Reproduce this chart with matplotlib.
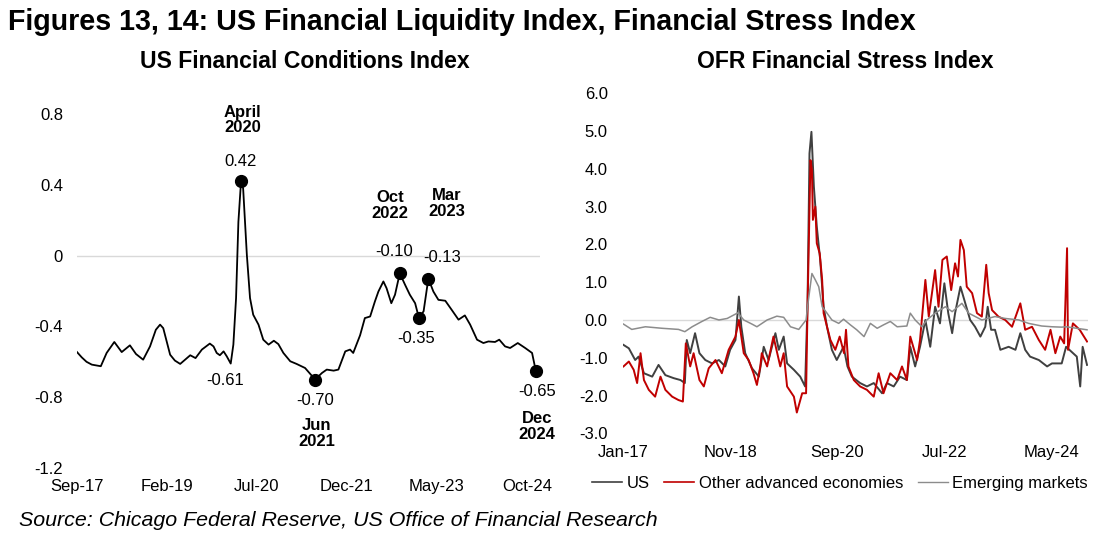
import matplotlib
matplotlib.use("Agg")
import matplotlib.pyplot as plt
from matplotlib.lines import Line2D

plt.rcParams['font.family'] = ['Liberation Sans', 'DejaVu Sans']

# ---------------- Left chart: US Financial Conditions Index ----------------
# x = months since Sep-2017
nfci_month = [0, 0.9, 1.8, 2.8, 4.5, 5.6, 7.05, 8.45, 10.0, 11.15, 12.5, 13.8, 14.9, 15.7, 16.3,
              17.6, 18.5, 19.5, 21.4, 22.4, 23.6, 25.1, 25.8, 26.4, 27.0, 27.7, 28.3, 29.05, 29.55,
              30.06, 30.5, 31.0, 31.4, 32.1, 32.7, 33.3, 34.3, 35.2, 36.2, 37.2, 38.05, 39.0, 40.3,
              41.5, 43.1, 45.0, 46.3, 47.2, 48.5, 49.4, 50.7, 51.6, 52.2, 53.5, 54.4, 55.4, 56.3,
              56.96, 57.9, 58.5, 59.4, 60.1, 61.0, 62.0, 62.9, 63.9, 64.6, 65.5, 66.4, 67.35, 68.3,
              69.6, 70.8, 72.1, 73.3, 74.3, 75.6, 76.8, 77.75, 79.0, 79.8, 80.9, 81.85, 83.3, 84.7,
              86.0, 86.7]
nfci_value = [-0.545, -0.575, -0.60, -0.616, -0.625, -0.55, -0.488, -0.545, -0.507, -0.556, -0.588,
              -0.513, -0.419, -0.39, -0.41, -0.56, -0.593, -0.612, -0.563, -0.579, -0.531, -0.497,
              -0.513, -0.55, -0.563, -0.541, -0.569, -0.61, -0.503, -0.24, 0.19, 0.42, 0.379, 0.004,
              -0.24, -0.334, -0.39, -0.475, -0.503, -0.481, -0.5, -0.55, -0.597, -0.612, -0.635,
              -0.70, -0.663, -0.644, -0.65, -0.644, -0.541, -0.531, -0.55, -0.45, -0.353, -0.344,
              -0.259, -0.203, -0.146, -0.184, -0.269, -0.221, -0.10, -0.165, -0.221, -0.269, -0.35,
              -0.315, -0.13, -0.203, -0.25, -0.255, -0.306, -0.362, -0.338, -0.39, -0.475, -0.494,
              -0.485, -0.488, -0.475, -0.513, -0.522, -0.494, -0.522, -0.55, -0.65]
left_tick_month = [0, 17, 34, 51, 68, 85]
left_tick_label = ["Sep-17", "Feb-19", "Jul-20", "Dec-21", "May-23", "Oct-24"]
left_yticks = [-1.2, -0.8, -0.4, 0, 0.4, 0.8]
left_ylabels = ["-1.2", "-0.8", "-0.4", "0", "0.4", "0.8"]

# highlighted points: (month, value, value label, date label)
hl_month = [31.0, 45.0, 61.0, 64.6, 66.4, 86.7]
hl_value = [0.42, -0.70, -0.10, -0.35, -0.13, -0.65]
hl_vlabel = ["0.42", "-0.70", "-0.10", "-0.35", "-0.13", "-0.65"]
hl_dlabel = ["April\n2020", "Jun\n2021", "Oct\n2022", "", "Mar\n2023", "Dec\n2024"]
extra_label_month, extra_label_value, extra_label_text = 29.05, -0.61, "-0.61"

# ---------------- Right chart: OFR Financial Stress Index ----------------
# x = months since Jan-2017
us_month = [0.1, 1.2, 2.5, 3.2, 4.3, 6.0, 7.3, 8.7, 10.4, 11.8, 12.7, 13.1, 13.8, 14.8, 15.7, 16.9,
            18.3, 19.7, 21.0, 22.0, 23.1, 23.8, 24.3, 25.1, 26.5, 27.9, 28.9, 29.9, 31.3, 32.0, 33.0,
            33.7, 35.1, 36.4, 37.4, 37.9, 38.3, 38.7, 39.2, 39.8, 40.5, 41.2, 41.9, 42.9, 43.9, 45.3,
            46.1, 47.0, 48.7, 50.1, 51.5, 53.2, 54.2, 55.6, 56.9, 58.3, 59.0, 60.0, 61.0, 62.1, 63.1,
            64.1, 65.1, 66.0, 66.8, 67.6, 68.2, 69.3, 70.3, 71.3, 72.3, 73.4, 74.4, 74.9, 75.6, 76.4,
            77.5, 79.2, 80.6, 81.6, 82.6, 83.6, 85.4, 87.1, 88.1, 90.1, 91.0, 93.2, 93.9, 94.4, 95.3]
us_value = [-0.66, -0.75, -1.06, -0.97, -1.41, -1.5, -1.19, -1.46, -1.54, -1.59, -1.67, -0.53, -0.88,
            -0.35, -0.88, -1.06, -1.15, -1.06, -1.23, -0.79, -0.53, 0.62, -0.18, -0.88, -1.28, -1.5,
            -0.71, -1.06, -0.35, -0.79, -0.44, -1.15, -1.32, -1.5, -1.76, 0.44, 4.41, 4.98, 3.53, 2.47,
            1.59, 0.35, -0.18, -0.79, -1.06, -0.71, -1.23, -1.5, -1.67, -1.76, -1.67, -1.94, -1.67,
            -1.76, -1.5, -1.59, -0.71, -1.23, -0.71, 0.0, -0.71, 0.35, -0.09, 0.97, 0.18, -0.35, 0.18,
            0.88, 0.44, 0.0, -0.18, -0.44, -0.18, 0.35, -0.26, -0.26, -0.79, -0.71, -0.79, -0.35, -0.79,
            -0.97, -1.06, -1.23, -1.15, -1.15, -0.71, -0.97, -1.76, -0.71, -1.19]
oae_month = [0.1, 1.2, 2.2, 2.9, 3.6, 4.3, 5.3, 6.6, 7.7, 8.7, 10.1, 11.4, 12.3, 12.9, 13.8, 14.5,
             15.7, 16.6, 17.6, 19.0, 20.3, 21.7, 23.1, 23.8, 24.8, 25.8, 26.8, 27.5, 28.2, 28.5, 29.6,
             30.9, 32.3, 33.0, 33.7, 35.1, 35.7, 36.8, 37.6, 37.9, 38.5, 38.8, 39.0, 39.5, 39.8, 40.4,
             40.9, 41.2, 41.9, 42.6, 43.6, 44.5, 45.4, 45.8, 46.3, 47.4, 48.7, 50.1, 51.5, 52.5, 53.5,
             54.9, 56.3, 57.3, 58.3, 59.0, 60.4, 61.0, 62.1, 62.8, 64.1, 64.8, 65.6, 66.5, 67.4, 68.2,
             68.8, 69.3, 70.0, 70.6, 71.7, 72.7, 73.7, 74.6, 75.1, 75.8, 77.1, 78.5, 79.9, 81.6, 82.6,
             84.0, 85.4, 86.7, 87.8, 88.8, 89.8, 90.6, 91.2, 91.4, 92.4, 93.8, 95.3]
oae_value = [-1.23, -1.1, -1.32, -1.67, -0.88, -1.59, -1.85, -2.03, -1.5, -1.85, -2.03, -2.12, -2.16,
             -0.62, -1.23, -0.88, -1.59, -1.76, -1.28, -1.06, -1.41, -0.79, -0.44, 0.0, -0.88, -1.06,
             -1.41, -1.72, -1.23, -0.88, -1.23, -0.44, -1.23, -0.88, -1.76, -2.03, -2.45, -1.94, -1.94,
             0.35, 4.23, 3.97, 2.65, 3.0, 2.03, 1.76, 1.06, 0.18, -0.18, -0.53, -0.79, -0.44, -0.88,
             -0.26, -1.23, -1.59, -1.76, -1.85, -2.03, -1.41, -1.94, -1.41, -1.59, -1.23, -1.59, -0.44,
             -1.06, -0.53, 1.06, 0.09, 1.32, 0.35, 1.59, 1.68, 0.79, 1.5, 1.15, 2.12, 1.85, 0.88, 0.71,
             0.18, 0.09, 1.46, 0.71, 0.26, 0.09, 0.0, -0.18, 0.44, -0.26, -0.18, -0.53, -0.79, -0.26,
             -0.88, -0.44, -0.62, 1.9, -0.79, -0.09, -0.26, -0.57]
em_month = [0.1, 1.8, 4.6, 8.0, 11.4, 12.7, 14.2, 16.2, 17.9, 19.7, 21.4, 23.6, 24.8, 26.5, 27.5,
            29.6, 31.6, 33.0, 34.4, 36.1, 37.6, 37.9, 38.8, 39.5, 40.2, 40.9, 41.9, 42.9, 44.3, 45.3,
            46.7, 48.0, 49.5, 50.8, 52.2, 53.5, 54.9, 56.3, 58.3, 59.0, 60.0, 61.4, 62.4, 64.1, 66.2,
            67.6, 69.6, 71.0, 73.7, 76.4, 78.5, 81.3, 83.3, 86.0, 88.1, 90.1, 91.0, 95.3]
em_value = [-0.11, -0.25, -0.18, -0.22, -0.25, -0.31, -0.18, -0.04, 0.07, 0.0, 0.04, 0.19, 0.0, -0.11,
            -0.18, 0.0, 0.1, 0.07, -0.18, -0.25, 0.0, 0.35, 1.23, 1.06, 0.88, 0.35, 0.18, 0.0, -0.09,
            0.02, -0.13, -0.26, -0.44, -0.09, -0.22, -0.13, -0.04, -0.18, -0.16, 0.18, 0.0, -0.18, 0.0,
            0.18, 0.35, 0.22, 0.44, 0.18, 0.0, 0.09, 0.04, 0.0, -0.09, -0.16, -0.18, -0.19, -0.18, -0.26]
right_tick_month = [0, 22, 44, 66, 88]
right_tick_label = ["Jan-17", "Nov-18", "Sep-20", "Jul-22", "May-24"]
right_yticks = [-3, -2, -1, 0, 1, 2, 3, 4, 5, 6]
series_names = ["US", "Other advanced economies", "Emerging markets"]

C_US = "#404040"
C_OAE = "#C00000"
C_EM = "#8C8C8C"
C_GRID = "#D9D9D9"
W, H = 1111, 544

fig = plt.figure(figsize=(W / 100, H / 100), dpi=100)

def fx(px):
    return px / W

def fy(py):
    return 1 - py / H

# ---- titles ----
fig.text(fx(8), fy(22), "Figures 13, 14: US Financial Liquidity Index, Financial Stress Index",
         fontsize=20.6, fontweight="bold", ha="left", va="center")
fig.text(fx(305), fy(61), "US Financial Conditions Index", fontsize=16.6, fontweight="bold",
         ha="center", va="center")
fig.text(fx(845), fy(62), "OFR Financial Stress Index", fontsize=16.6, fontweight="bold",
         ha="center", va="center")
fig.text(fx(19), fy(521), "Source: Chicago Federal Reserve, US Office of Financial Research",
         fontsize=15.4, style="italic", ha="left", va="center")

# ---- left axes ----
axL = fig.add_axes([fx(77), fy(468), fx(540) - fx(77), fy(114) - fy(468)])
axL.set_xlim(0, 87.5)
axL.set_ylim(-1.2, 0.8)
axL.axhline(0, color=C_GRID, lw=1.0, zorder=1)
axL.plot(nfci_month, nfci_value, color="black", lw=1.3, zorder=3)
axL.plot(hl_month, hl_value, "o", color="black", ms=8.5, zorder=4, clip_on=False)

# annotation offsets in points (value label, date label)
v_off = [(0, 14), (0, -15), (-4, 16), (-2, -15), (10, 15), (1, -15)]
d_off = [(1, 44), (1, -39), (-7, 49), (0, 0), (13, 54), (1, -40)]
for m, v, vl, dl, vo, do in zip(hl_month, hl_value, hl_vlabel, hl_dlabel, v_off, d_off):
    axL.annotate(vl, (m, v), xytext=vo, textcoords="offset points", ha="center", va="center",
                 fontsize=12, annotation_clip=False)
    if dl:
        axL.annotate(dl, (m, v), xytext=do, textcoords="offset points", ha="center", va="center",
                     fontsize=12, fontweight="bold", linespacing=1.05, annotation_clip=False)
axL.annotate(extra_label_text, (extra_label_month, extra_label_value), xytext=(-4, -12.5),
             textcoords="offset points", ha="center", va="center", fontsize=12)

axL.set_xticks(left_tick_month)
axL.set_xticklabels(left_tick_label)
axL.set_yticks(left_yticks)
axL.set_yticklabels(left_ylabels)
axL.tick_params(axis="both", length=0, labelsize=12)
axL.tick_params(axis="x", pad=8)
axL.tick_params(axis="y", pad=10)
for s in axL.spines.values():
    s.set_visible(False)

# ---- right axes ----
axR = fig.add_axes([fx(623), fy(433.3), fx(1088) - fx(623), fy(93.3) - fy(433.3)])
axR.set_xlim(0, 95.5)
axR.set_ylim(-3, 6)
axR.axhline(0, color=C_GRID, lw=1.0, zorder=1)
axR.plot(us_month, us_value, color=C_US, lw=1.4, zorder=2)
axR.plot(oae_month, oae_value, color=C_OAE, lw=1.4, zorder=3)
axR.plot(em_month, em_value, color=C_EM, lw=1.1, zorder=4)
axR.set_xticks(right_tick_month)
axR.set_xticklabels(right_tick_label)
axR.set_yticks(right_yticks)
axR.set_yticklabels([f"{t:.1f}" for t in right_yticks])
axR.tick_params(axis="both", length=0, labelsize=12)
axR.tick_params(axis="x", pad=8.5)
axR.tick_params(axis="y", pad=11)
for s in axR.spines.values():
    s.set_visible(False)

handles = [Line2D([], [], color=C_US, lw=1.2), Line2D([], [], color=C_OAE, lw=1.2),
           Line2D([], [], color=C_EM, lw=1.0)]
fig.legend(handles, series_names, loc="center", bbox_to_anchor=(fx(840), fy(483.3)), ncol=3,
           frameon=False, fontsize=12, handlelength=1.8, handletextpad=0.25, columnspacing=0.9,
           borderaxespad=0, borderpad=0)

fig.savefig("out.png", dpi=100)
